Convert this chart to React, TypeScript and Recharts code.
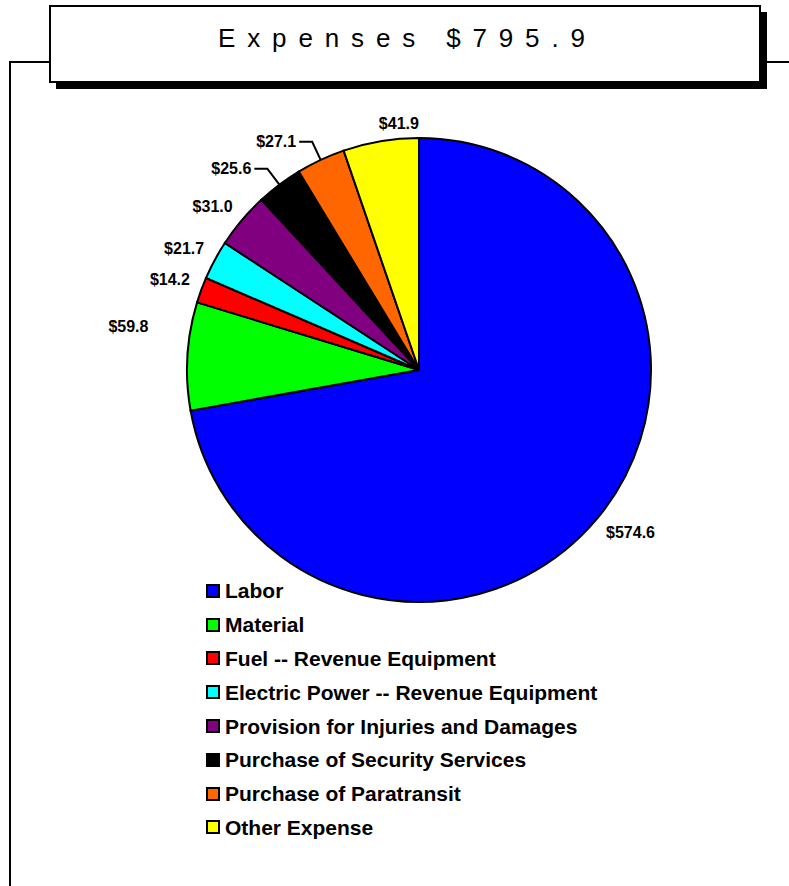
import { PieChart, Pie, Cell } from 'recharts';

const categories = [
  'Labor',
  'Material',
  'Fuel -- Revenue Equipment',
  'Electric Power -- Revenue Equipment',
  'Provision for Injuries and Damages',
  'Purchase of Security Services',
  'Purchase of Paratransit',
  'Other Expense',
];
const values = [574.6, 59.8, 14.2, 21.7, 31.0, 25.6, 27.1, 41.9];
const colors = ['#0000FF', '#00FF00', '#FF0000', '#00FFFF', '#800080', '#000000', '#FF6600', '#FFFF00'];
const title = 'Expenses $795.9';

const data = categories.map((name, i) => ({ name, value: values[i] }));

// slices whose label sits on a bent leader line
const withLeader = [false, false, false, false, false, true, true, false];
// label dragged away from its default spot in the original
const labelNudge: Record<number, [number, number]> = { 1: [-27, -29] };

const RAD = Math.PI / 180;
const font = "'Liberation Sans', Arial, sans-serif";

function renderLabel(props: any) {
  const { cx, cy, midAngle, outerRadius, index, value } = props;
  const c = Math.cos(-midAngle * RAD);
  const s = Math.sin(-midAngle * RAD);
  const text = `$${Number(value).toFixed(1)}`;
  const style = { fontFamily: font, fontWeight: 700, fontSize: 16, fill: '#000' };

  if (withLeader[index]) {
    const ex = cx + (outerRadius + 20) * c;
    const ey = cy + (outerRadius + 20) * s;
    const dir = c < 0 ? -1 : 1;
    const pts = `${cx + outerRadius * c},${cy + outerRadius * s} ${ex},${ey} ${ex + dir * 13},${ey}`;
    return (
      <g key={`lbl-${index}`}>
        <polyline points={pts} fill="none" stroke="#000" strokeWidth={2} />
        <text x={ex + dir * 16} y={ey} textAnchor={dir < 0 ? 'end' : 'start'} dominantBaseline="central" style={style}>
          {text}
        </text>
      </g>
    );
  }

  const [nx, ny] = labelNudge[index] || [0, 0];
  const px = cx + (outerRadius + 12) * c + nx;
  const py = cy + (outerRadius + 12) * s + ny;
  const ty = Math.abs(s) > 0.15 ? py + 6 * Math.sign(s) : py;
  return (
    <text key={`lbl-${index}`} x={px} y={ty} textAnchor={c < -0.2 ? 'end' : 'start'} dominantBaseline="central" style={style}>
      {text}
    </text>
  );
}

export default function App() {
  return (
    <div style={{ position: 'absolute', left: 0, top: 0, width: 789, height: 886, background: '#fff', overflow: 'hidden' }}>
      {/* frame */}
      <svg width={789} height={886} style={{ position: 'absolute', left: 0, top: 0 }}>
        <rect x={10} y={62} width={900} height={900} fill="none" stroke="#000" strokeWidth={2} />
      </svg>

      <div style={{ position: 'absolute', left: 0, top: 0 }}>
        <PieChart width={789} height={886} margin={{ top: 0, right: 0, bottom: 0, left: 0 }}>
          <Pie
            data={data}
            dataKey="value"
            nameKey="name"
            cx={419}
            cy={370}
            outerRadius={232}
            startAngle={90}
            endAngle={-270}
            label={renderLabel}
            labelLine={false}
            isAnimationActive={false}
          >
            {data.map((d, i) => (
              <Cell key={d.name} fill={colors[i]} stroke="#000" strokeWidth={2} />
            ))}
          </Pie>
        </PieChart>
      </div>

      {/* title box */}
      <svg width={789} height={100} style={{ position: 'absolute', left: 0, top: 0 }}>
        <rect x={56} y={12} width={711} height={77} fill="#000" />
        <rect x={50} y={6} width={710} height={76} fill="#fff" stroke="#000" strokeWidth={2} />
        <text
          x={218}
          y={38}
          textLength={367}
          lengthAdjust="spacing"
          dominantBaseline="central"
          style={{ fontFamily: font, fontSize: 26, fontWeight: 400, fill: '#000' }}
        >
          {title}
        </text>
      </svg>

      {/* legend */}
      <div style={{ position: 'absolute', left: 206, top: 574 }}>
        {categories.map((name, i) => (
          <div key={name} style={{ display: 'flex', alignItems: 'center', height: 33.8 }}>
            <div
              style={{
                width: 14,
                height: 14,
                boxSizing: 'border-box',
                border: '2px solid #000',
                background: colors[i],
                marginRight: 5,
              }}
            />
            <span style={{ fontFamily: font, fontWeight: 700, fontSize: 21, color: '#000', lineHeight: '21px' }}>{name}</span>
          </div>
        ))}
      </div>
    </div>
  );
}
